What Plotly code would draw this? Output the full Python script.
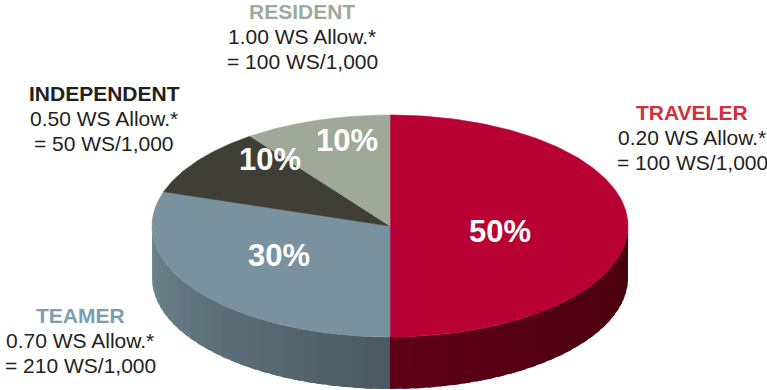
import numpy as np
import plotly.graph_objects as go

# ---- data ----
categories = ["TRAVELER", "TEAMER", "INDEPENDENT", "RESIDENT"]
shares = [50, 30, 10, 10]
ws_allow = ["0.20", "0.70", "0.50", "1.00"]
ws_per_1000 = ["100", "210", "50", "100"]

# ---- styles ----
top_colors = ["#B90035", "#7A929F", "#3F3F38", "#A0A898"]
# side colour at the left and right end (on screen) of each slice's visible arc
side_left_colors = ["#5E0018", "#6E8590", "#2A2A26", "#6E7568"]
side_right_colors = ["#48000F", "#4A5961", "#2A2A26", "#6E7568"]
label_colors = ["#D12E3E", "#7C9DB5", "#231F20", "#9CAB99"]
text_color = "#231F20"
FONT = "Liberation Sans, Arial, Helvetica"

W, H = 767, 390
CX, CY, RX, RY, DEPTH = 390, 226, 238, 111, 52

pct_pos = [(500, 231), (279, 255), (270, 159), (347, 140)]
label_pos = [(692, 112), (80, 315), (104, 93), (302, 11)]
LINE = 25


def hex2rgb(h):
    h = h.lstrip("#")
    return np.array([int(h[i:i + 2], 16) for i in (0, 2, 4)], dtype=float)


def mix(c1, c2, f):
    c = hex2rgb(c1) * (1 - f) + hex2rgb(c2) * f
    return "rgb(%d,%d,%d)" % tuple(np.round(c))


def arc(t0, t1, n=120, dy=0.0):
    t = np.radians(np.linspace(t0, t1, n))
    return CX + RX * np.cos(t), CY - RY * np.sin(t) + dy


fig = go.Figure()

# slice angles: start at 12 o'clock, go clockwise
total = float(sum(shares))
bounds = []
start = 90.0
for s in shares:
    end = start - 360.0 * s / total
    bounds.append((start, end))
    start = end

# ---- sides (front half only: angles in [-180, 0] mod 360) ----
for i, (a0, a1) in enumerate(bounds):
    hi, lo = a0, a1
    for k in (-720, -360, 0, 360):
        vlo, vhi = -180 + k, 0 + k
        s_hi, s_lo = min(hi, vhi), max(lo, vlo)
        if s_hi - s_lo <= 0.01:
            continue
        nseg = 30
        edges = np.linspace(s_lo, s_hi, nseg + 1)
        step = edges[1] - edges[0]
        for j in range(nseg):
            e0 = edges[j]
            e1 = min(edges[j + 1] + step * 0.6, s_hi)
            f = (j + 0.5) / nseg  # 0 = leftmost on screen (lowest angle in front half)
            col = mix(side_left_colors[i], side_right_colors[i], f)
            xt, yt = arc(e0, e1, 8)
            xb, yb = arc(e1, e0, 8, DEPTH)
            xs = np.concatenate([xt, xb, xt[:1]])
            ys = np.concatenate([yt, yb, yt[:1]])
            fig.add_trace(go.Scatter(x=xs, y=ys, mode="lines", fill="toself",
                                     fillcolor=col, line=dict(width=0),
                                     hoverinfo="skip", showlegend=False))
        # thin outline of the whole side piece to hide antialias gaps at the edge
        xt, yt = arc(s_lo, s_hi, 60)
        xb, yb = arc(s_hi, s_lo, 60, DEPTH)
        ecol = mix(side_left_colors[i], side_right_colors[i], 0.5)

# ---- top faces ----
for i, (a0, a1) in enumerate(bounds):
    xa, ya = arc(a0, a1, 200)
    xs = np.concatenate([[CX], xa, [CX]])
    ys = np.concatenate([[CY], ya, [CY]])
    fig.add_trace(go.Scatter(x=xs, y=ys, mode="lines", fill="toself",
                             fillcolor=top_colors[i], line=dict(color=top_colors[i], width=0.6),
                             hoverinfo="skip", showlegend=False, name=categories[i]))

ann = []
for i, c in enumerate(categories):
    px, py = pct_pos[i]
    ann.append(dict(x=px, y=py, text="<b>%d%%</b>" % shares[i], showarrow=False,
                    font=dict(family=FONT, size=31, color="white"),
                    xanchor="center", yanchor="middle"))
    lx, ly = label_pos[i]
    ann.append(dict(x=lx, y=ly, text="<b>%s</b>" % c, showarrow=False,
                    font=dict(family=FONT, size=21, color=label_colors[i]),
                    xanchor="center", yanchor="middle"))
    ann.append(dict(x=lx, y=ly + LINE, text="%s WS Allow.*" % ws_allow[i], showarrow=False,
                    font=dict(family=FONT, size=21, color=text_color),
                    xanchor="center", yanchor="middle"))
    ann.append(dict(x=lx, y=ly + 2 * LINE, text="= %s WS/1,000" % ws_per_1000[i], showarrow=False,
                    font=dict(family=FONT, size=21, color=text_color),
                    xanchor="center", yanchor="middle"))

fig.update_layout(
    width=W, height=H, margin=dict(l=0, r=0, t=0, b=0),
    paper_bgcolor="white", plot_bgcolor="white",
    xaxis=dict(range=[0, W], visible=False, fixedrange=True),
    yaxis=dict(range=[H, 0], visible=False, fixedrange=True),
    annotations=ann, showlegend=False,
)

fig.write_html("out.html")
